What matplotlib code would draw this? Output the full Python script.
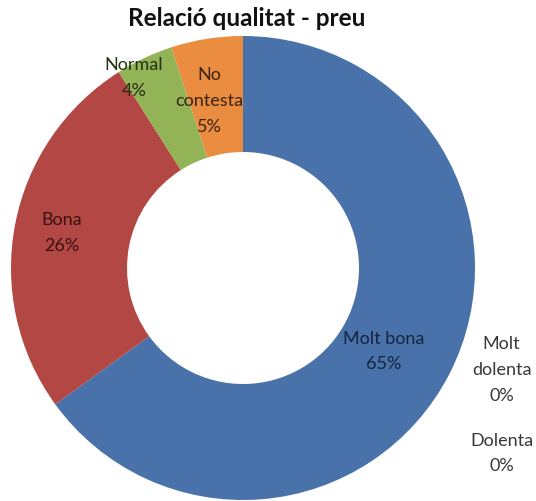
import matplotlib
matplotlib.use("Agg")
import matplotlib.pyplot as plt

# ---- data ----
categories = ["Molt bona", "Molt dolenta", "Dolenta", "Bona", "Normal", "No contesta"]
labels = ["Molt bona", "Molt\ndolenta", "Dolenta", "Bona", "Normal", "No\ncontesta"]
values = [65, 0, 0, 26, 4, 5]
colors = ["#4872a9", "#7f5f9f", "#3fa0b8", "#b34744", "#92b456", "#eb8d40"]
text_colors = ["#15243f", "#383838", "#383838", "#3a1212", "#22300f", "#3a240f"]
# label anchor points in data units (pie radius = 1)
label_pos = [(0.605, -0.36), (1.115, -0.44), (1.115, -0.80), (-0.78, 0.15), (-0.47, 0.82), (-0.145, 0.72)]

fig = plt.figure(figsize=(5.36, 5.01), dpi=100)
W, H = 536, 501
cx, cy, R = 243, 268, 232
ax = fig.add_axes([(cx - R) / W, (H - cy - R) / H, 2 * R / W, 2 * R / H])

ax.pie(values, colors=colors, startangle=90, counterclock=False, radius=1.0,
       wedgeprops=dict(width=0.5, edgecolor="none"))
ax.set_xlim(-1, 1)
ax.set_ylim(-1, 1)
ax.set_aspect("equal")
ax.axis("off")

for lab, v, (x, y), tc in zip(labels, values, label_pos, text_colors):
    ax.text(x, y, f"{lab}\n{v}%", ha="center", va="center", fontsize=13,
            family="Lato", color=tc, linespacing=1.75, clip_on=False)

fig.text(247 / W, 1 - 19 / H, "Relació qualitat - preu", ha="center", va="center",
         fontsize=17.5, fontweight="bold", family="Lato", color="#111111")

fig.savefig("out.png", dpi=100)
